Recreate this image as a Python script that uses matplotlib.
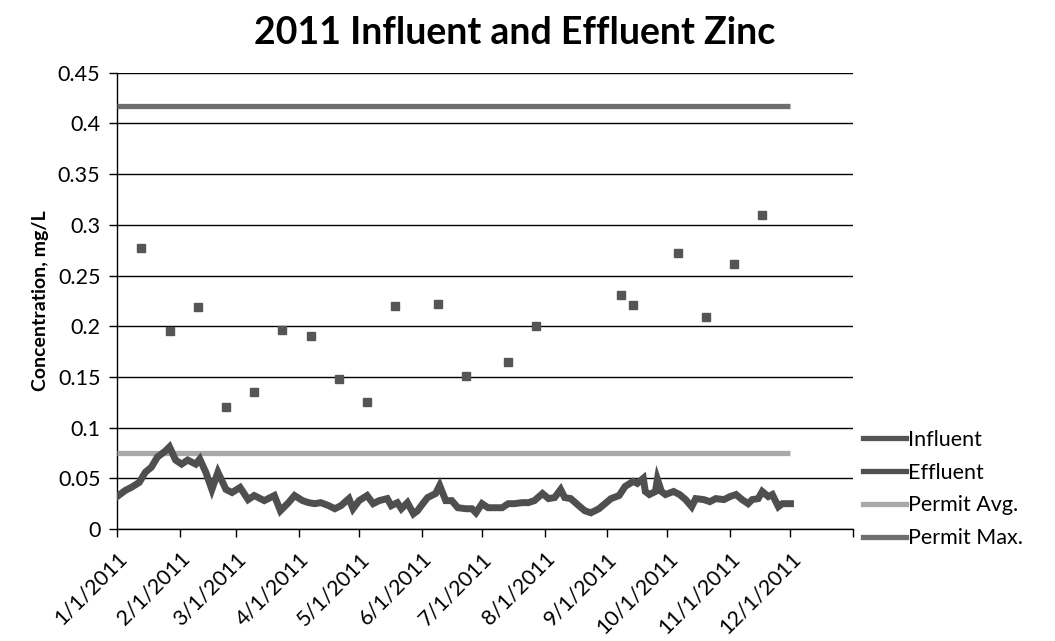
"""2011 influent and effluent zinc concentrations."""

import matplotlib
matplotlib.use("Agg")
import matplotlib.pyplot as plt
from matplotlib.lines import Line2D
import pandas as pd

plt.rcParams["font.family"] = ["Lato", "DejaVu Sans"]

# influent grab samples (roughly every two weeks)
influent_dates = [
    "2011-01-13", "2011-01-27", "2011-02-10", "2011-02-24", "2011-03-10",
    "2011-03-24", "2011-04-07", "2011-04-21", "2011-05-05", "2011-05-19",
    "2011-06-09", "2011-06-23", "2011-07-14", "2011-07-28", "2011-09-08",
    "2011-09-14", "2011-10-06", "2011-10-20", "2011-11-03", "2011-11-17",
]
influent_vals = [
    0.277, 0.195, 0.219, 0.120, 0.135,
    0.196, 0.190, 0.148, 0.125, 0.220,
    0.222, 0.151, 0.165, 0.200, 0.231,
    0.221, 0.272, 0.209, 0.261, 0.310,
]

# effluent, every few days
effluent_dates = [
    "2011-01-01", "2011-01-05", "2011-01-08", "2011-01-12", "2011-01-15",
    "2011-01-18", "2011-01-21", "2011-01-25", "2011-01-27", "2011-01-30",
    "2011-02-02", "2011-02-05", "2011-02-09", "2011-02-11", "2011-02-14",
    "2011-02-17", "2011-02-20", "2011-02-24", "2011-02-27", "2011-03-03",
    "2011-03-07", "2011-03-10", "2011-03-15", "2011-03-20", "2011-03-23",
    "2011-03-27", "2011-03-30", "2011-04-03", "2011-04-06", "2011-04-09",
    "2011-04-12", "2011-04-16", "2011-04-19", "2011-04-22", "2011-04-26",
    "2011-04-28", "2011-05-01", "2011-05-05", "2011-05-08", "2011-05-11",
    "2011-05-15", "2011-05-17", "2011-05-20", "2011-05-22", "2011-05-25",
    "2011-05-28", "2011-05-30", "2011-06-02", "2011-06-04", "2011-06-08",
    "2011-06-10", "2011-06-13", "2011-06-16", "2011-06-19", "2011-06-23",
    "2011-06-26", "2011-06-28", "2011-07-01", "2011-07-04", "2011-07-07",
    "2011-07-11", "2011-07-14", "2011-07-17", "2011-07-21", "2011-07-24",
    "2011-07-27", "2011-07-31", "2011-08-03", "2011-08-06", "2011-08-09",
    "2011-08-11", "2011-08-14", "2011-08-18", "2011-08-21", "2011-08-24",
    "2011-08-28", "2011-08-31", "2011-09-03", "2011-09-07", "2011-09-10",
    "2011-09-14", "2011-09-16", "2011-09-19", "2011-09-20", "2011-09-22",
    "2011-09-25", "2011-09-26", "2011-09-28", "2011-09-30", "2011-10-04",
    "2011-10-07", "2011-10-10", "2011-10-13", "2011-10-15", "2011-10-19",
    "2011-10-22", "2011-10-25", "2011-10-29", "2011-11-01", "2011-11-04",
    "2011-11-07", "2011-11-10", "2011-11-12", "2011-11-15", "2011-11-17",
    "2011-11-20", "2011-11-22", "2011-11-25", "2011-11-27", "2011-12-01",
]
effluent_vals = [
    0.032, 0.038, 0.041, 0.046, 0.056,
    0.061, 0.071, 0.077, 0.081, 0.068,
    0.064, 0.068, 0.064, 0.069, 0.056,
    0.039, 0.056, 0.039, 0.036, 0.041,
    0.029, 0.033, 0.028, 0.033, 0.018,
    0.026, 0.033, 0.028, 0.026, 0.025,
    0.026, 0.023, 0.020, 0.023, 0.030,
    0.020, 0.028, 0.033, 0.025, 0.028,
    0.030, 0.023, 0.026, 0.020, 0.026,
    0.015, 0.018, 0.026, 0.031, 0.035,
    0.043, 0.028, 0.028, 0.021, 0.020,
    0.020, 0.016, 0.025, 0.021, 0.021,
    0.021, 0.025, 0.025, 0.026, 0.026,
    0.028, 0.035, 0.030, 0.031, 0.039,
    0.031, 0.030, 0.023, 0.018, 0.016,
    0.020, 0.025, 0.030, 0.033, 0.042,
    0.047, 0.045, 0.050, 0.037, 0.034,
    0.037, 0.049, 0.037, 0.034, 0.037,
    0.034, 0.029, 0.022, 0.030, 0.029,
    0.027, 0.030, 0.029, 0.032, 0.034,
    0.029, 0.025, 0.029, 0.030, 0.037,
    0.032, 0.034, 0.022, 0.025, 0.025,
]

permit_span = ["2011-01-01", "2011-12-01"]
permit_avg = 0.075
permit_max = 0.417

month_ticks = pd.date_range("2011-01-01", "2012-01-01", freq="MS")
month_labels = [f"{d.month}/1/2011" for d in month_ticks[:-1]] + [""]

c_influent = "#555555"
c_effluent = "#4f4f4f"
c_avg = "#a9a9a9"
c_max = "#6e6e6e"

fig = plt.figure(figsize=(10.55, 6.41), dpi=100)
ax = fig.add_axes([0.111, 0.1747, 0.6975, 0.7119])

span = pd.to_datetime(permit_span)
ax.plot(span, [permit_max, permit_max], color=c_max, linewidth=3.8,
        solid_capstyle="butt", zorder=3)
ax.plot(span, [permit_avg, permit_avg], color=c_avg, linewidth=3.8,
        solid_capstyle="butt", zorder=3)
ax.plot(pd.to_datetime(effluent_dates), effluent_vals, color=c_effluent,
        linewidth=5.0, solid_joinstyle="miter", zorder=4)
ax.plot(pd.to_datetime(influent_dates), influent_vals, linestyle="none",
        marker="s", markersize=5.5, color=c_influent, zorder=5)

ax.set_xlim(month_ticks[0], month_ticks[-1])
ax.set_ylim(0, 0.45)
ax.set_yticks([i * 0.05 for i in range(10)])
ax.set_yticklabels(["0", "0.05", "0.1", "0.15", "0.2", "0.25", "0.3",
                    "0.35", "0.4", "0.45"])
ax.set_xticks(month_ticks)
ax.set_xticklabels(month_labels, rotation=45, ha="right",
                   rotation_mode="anchor")

ax.tick_params(axis="both", labelsize=15.5, color="black", width=1)
ax.tick_params(axis="y", length=6, pad=6)
ax.tick_params(axis="x", length=6, pad=8)

ax.grid(axis="y", color="black", linewidth=1.0)
ax.set_axisbelow(True)
for side in ["top", "right"]:
    ax.spines[side].set_visible(False)
ax.spines["left"].set_linewidth(1.0)
ax.spines["bottom"].set_linewidth(1.0)

ax.set_ylabel("Concentration, mg/L", fontsize=14, fontweight="bold",
              labelpad=6)
fig.suptitle("2011 Influent and Effluent Zinc", x=0.488, y=0.975,
             fontsize=27, fontweight="bold")

handles = [
    Line2D([], [], color=c_influent, linewidth=3.8),
    Line2D([], [], color=c_effluent, linewidth=3.8),
    Line2D([], [], color=c_avg, linewidth=3.8),
    Line2D([], [], color=c_max, linewidth=3.8),
]
fig.legend(handles, ["Influent", "Effluent", "Permit Avg.", "Permit Max."],
           loc="upper left", bbox_to_anchor=(0.8, 0.36), frameon=False,
           fontsize=15.5, handlelength=2.0, handletextpad=0.05,
           labelspacing=0.6)

fig.savefig("out.png", dpi=100)
